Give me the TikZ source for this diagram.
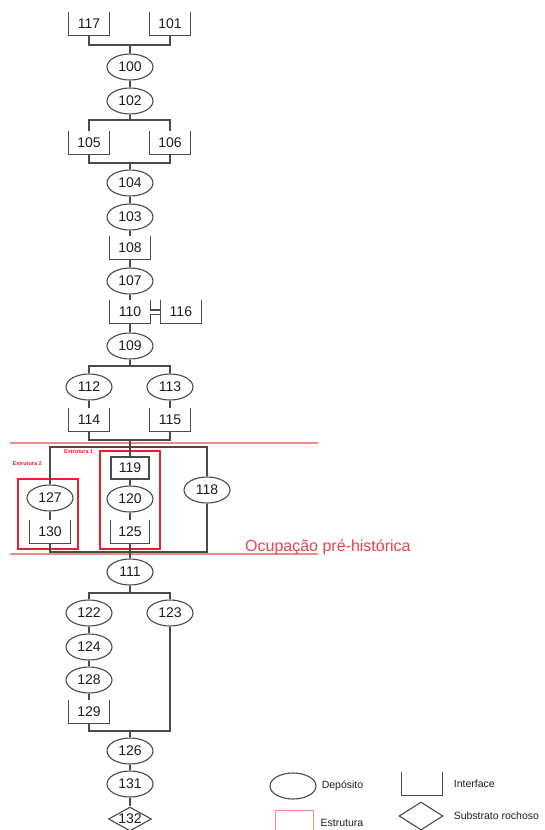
\documentclass[tikz,border=0pt]{standalone}
\usepackage{fontspec}
\setmainfont{Liberation Sans}
\usepackage{xcolor}
\usepackage{tikz}
\usetikzlibrary{
    positioning,
    shapes.geometric,
    fit,
    calc
}
\definecolor{linegray}{HTML}{4A4A4A}
\definecolor{strred}{HTML}{E8212B}
\definecolor{limred}{HTML}{F08A8A}
\definecolor{inkgray}{HTML}{1E1E1E}
\tikzset{
    deposit/.style={
        ellipse,
        draw=linegray,
        line width=1.1pt,
        inner sep=0pt,
        minimum width=46pt,
        minimum height=26pt,
        text=inkgray,
        font=\fontsize{14}{16}\selectfont
    },
    interface/.style={
        rectangle,
        inner sep=0pt,
        minimum width=41pt,
        minimum height=23pt,
        text=inkgray,
        font=\fontsize{14}{16}\selectfont,
        append after command={
            \pgfextra{\draw[draw=linegray, line width=1.2pt, line join=miter]
                (\tikzlastnode.north west) -- (\tikzlastnode.south west)
                -- (\tikzlastnode.south east) -- (\tikzlastnode.north east);}
        }
    },
    unitbox/.style={
        rectangle,
        draw=linegray,
        line width=1.1pt,
        inner sep=0pt,
        minimum width=38pt,
        minimum height=22pt,
        text=inkgray,
        font=\fontsize{14}{16}\selectfont
    },
    substrate/.style={
        diamond,
        draw=linegray,
        line width=1.1pt,
        aspect=1.8,
        inner sep=0pt,
        minimum width=43pt,
        minimum height=24pt,
        text=inkgray,
        font=\fontsize{14}{16}\selectfont
    },
    structure/.style={
        rectangle,
        draw=strred,
        line width=2pt,
        inner xsep=6pt,
        inner ysep=5pt
    },
    keybox/.style={
        rectangle,
        draw=limred,
        line width=1pt,
        minimum width=38pt,
        minimum height=26pt
    },
    strlabel/.style={
        inner sep=0pt,
        text=strred,
        font=\fontsize{5.5}{6}\selectfont\bfseries
    },
    periodlabel/.style={
        inner sep=0pt,
        text=strred!85!white,
        font=\fontsize{16}{18}\selectfont
    },
    keytext/.style={
        inner sep=0pt,
        text=inkgray,
        font=\fontsize{10.5}{12}\selectfont
    },
    link/.style={
        draw=linegray,
        line width=1.1pt
    },
    limit/.style={
        draw=limred,
        line width=1.3pt
    }
}

\begin{document}
\begin{tikzpicture}[x=1pt, y=-1pt]
\fill[white] (0,0) rectangle (544,830);
\useasboundingbox (0,0) rectangle (544,830);

% upper sequence
\node[interface] (i117) at (89,24) {117};
\node[interface] (i101) at (170,24) {101};
\node[deposit] (d100) at (130,67) {100};
\node[deposit] (d102) at (130,101) {102};
\node[interface] (i105) at (89,143) {105};
\node[interface] (i106) at (170,143) {106};
\node[deposit] (d104) at (130,183) {104};
\node[deposit] (d103) at (130,217) {103};
\node[interface, minimum width=40pt] (i108) at (130,248) {108};
\node[deposit] (d107) at (130,281) {107};
\node[interface, minimum width=40pt] (i110) at (130,312) {110};
\node[interface, right=10pt of i110] (i116) {116};
\node[deposit] (d109) at (130,346) {109};
\node[deposit] (d112) at (89,387) {112};
\node[deposit] (d113) at (170,387) {113};
\node[interface] (i114) at (89,420) {114};
\node[interface] (i115) at (170,420) {115};

% prehistoric occupation
\node[unitbox] (b119) at (130,468) {119};
\node[deposit] (d120) at (130,499) {120};
\node[interface, minimum width=38pt] (i125) at (130,532) {125};
\node[deposit] (d127) at (50,498) {127};
\node[interface, minimum width=40pt] (i130) at (50,532) {130};
\node[deposit] (d118) at (207,490) {118};
\coordinate (s2edge) at ([xshift=-4pt]d127.west);
\node[structure, fit=(b119)(d120)(i125)] (s1) {};
\node[structure, inner xsep=4pt, fit=(s2edge)(d127)(i130)] (s2) {};
\node[strlabel, anchor=north east] (s1label) at ([xshift=-6pt, yshift=1pt]s1.north west) {Estrutura 1};
\node[strlabel, anchor=south west] (s2label) at ([xshift=-5pt, yshift=13pt]s2.north west) {Estrutura 2};
\draw[limit] (10,443) -- (318,443);
\draw[limit] (10,554) -- (318,554);
\node[periodlabel, anchor=base west] (period) at (245,551) {Ocupação pré-histórica};

% lower sequence
\node[deposit] (d111) at (130,572) {111};
\node[deposit] (d122) at (89,613) {122};
\node[deposit] (d123) at (170,613) {123};
\node[deposit] (d124) at (89,647) {124};
\node[deposit] (d128) at (89,680) {128};
\node[interface] (i129) at (89,712) {129};
\node[deposit] (d126) at (130,751) {126};
\node[deposit] (d131) at (130,784) {131};
\node[substrate] (r132) at (130,819) {132};

% junctions
\coordinate (j1) at (130,45);
\coordinate (j2) at (130,120);
\coordinate (j3) at (130,163);
\coordinate (j4) at (130,366);
\coordinate (j5) at (130,440);
\coordinate (ftop) at (130,447);
\coordinate (fbot) at (130,552);
\coordinate (j6) at (130,593);
\coordinate (j7) at (130,731);

\draw[link] (i117.south) |- (j1) -| (i101.south);
\draw[link] (j1) -- (d100);
\draw[link] (d100) -- (d102);
\draw[link] (d102) -- (j2);
\draw[link] (i105.north) |- (j2) -| (i106.north);
\draw[link] (i105.south) |- (j3) -| (i106.south);
\draw[link] (j3) -- (d104);
\draw[link] (d104) -- (d103);
\draw[link] (d103) -- (i108);
\draw[link] (i108) -- (d107);
\draw[link] (d107) -- (i110);
\draw[link, double=white, double distance=3pt] (i110) -- (i116);
\draw[link] (i110) -- (d109);
\draw[link] (d109) -- (j4);
\draw[link] (d112.north) |- (j4) -| (d113.north);
\draw[link] (d112) -- (i114);
\draw[link] (d113) -- (i115);
\draw[link] (i114.south) |- (j5) -| (i115.south);
\draw[link] (j5) -- (b119);
\draw[link] (d127.north) |- (ftop) -| (d118.north);
\draw[link] (b119) -- (d120);
\draw[link] (d120) -- (i125);
\draw[link] (d127) -- (i130);
\draw[link] (i130.south) |- (fbot) -| (d118.south);
\draw[link] (i125) -- (d111);
\draw[link] (d111) -- (j6);
\draw[link] (d122.north) |- (j6) -| (d123.north);
\draw[link] (d122) -- (d124);
\draw[link] (d124) -- (d128);
\draw[link] (d128) -- (i129);
\draw[link] (i129.south) |- (j7) -| (d123.south);
\draw[link] (j7) -- (d126);
\draw[link] (d126) -- (d131);
\draw[link] (d131) -- (r132);

% legend
\node[deposit] (kdep) at (293,786) {};
\node[keytext, right=5pt of kdep] (kdeptext) {Depósito};
\node[interface] (kint) at (422,784) {};
\node[keytext, right=11pt of kint] (kinttext) {Interface};
\node[keybox] (kstr) at (294,823) {};
\node[keytext, right=7pt of kstr] (kstrtext) {Estrutura};
\node[substrate, minimum width=44pt, minimum height=28pt] (ksub) at (421,816) {};
\node[keytext, right=10pt of ksub] (ksubtext) {Substrato rochoso};
\end{tikzpicture}
\end{document}
